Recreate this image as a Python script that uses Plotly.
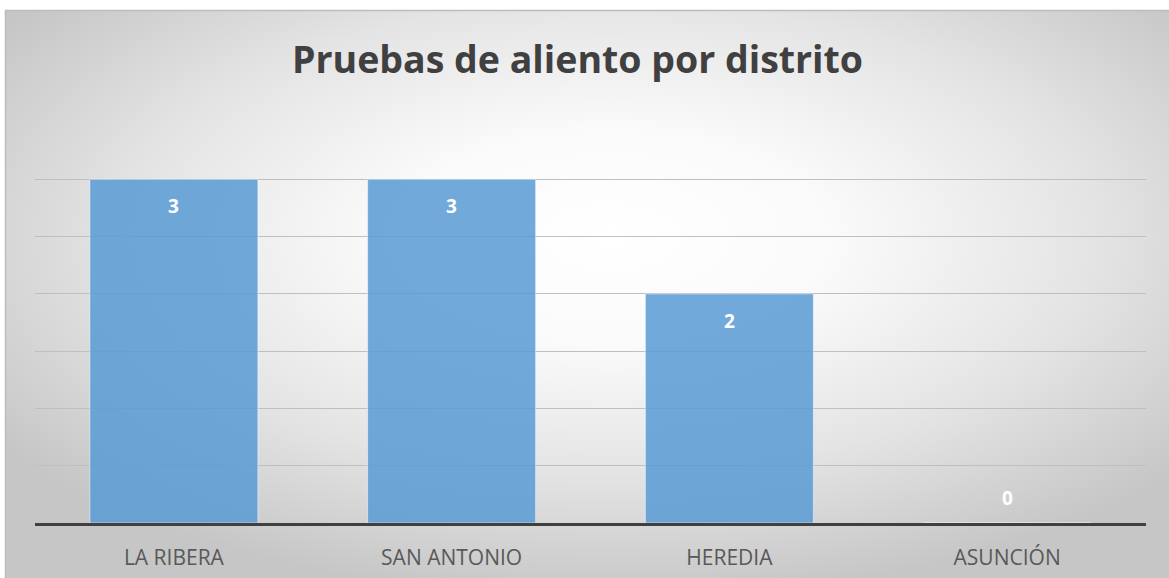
import plotly.graph_objects as go
import base64

categories = ["LA RIBERA", "SAN ANTONIO", "HEREDIA", "ASUNCIÓN"]
values = [3, 3, 2, 0]
title_text = "Pruebas de aliento por distrito"

W, H = 1169, 578
ML, MR, MT, MB = 35, 23, 122, 55
pw = W - ML - MR
ph = H - MT - MB

def px_to_paper_x(px):
    return (px - ML) / pw

def py_to_paper_y(py):
    return (H - MB - py) / ph

svg = f'''<svg xmlns="http://www.w3.org/2000/svg" width="1164" height="568" viewBox="0 0 1164 568" preserveAspectRatio="none">
<defs><radialGradient id="g" cx="0.52" cy="0.4" r="0.64" fx="0.52" fy="0.4">
<stop offset="0" stop-color="#ffffff"/>
<stop offset="0.3" stop-color="#fafafa"/>
<stop offset="0.65" stop-color="#e4e4e4"/>
<stop offset="1" stop-color="#c6c6c6"/>
</radialGradient></defs>
<rect x="0" y="0" width="1164" height="568" fill="url(#g)"/>
</svg>'''
src = "data:image/svg+xml;base64," + base64.b64encode(svg.encode()).decode()

fig = go.Figure()
fig.add_trace(go.Bar(
    x=categories, y=values,
    marker=dict(color="rgba(91,155,213,0.86)", line=dict(color="rgba(255,255,255,0.5)", width=1)),
    hoverinfo="skip",
))

annotations = []
for c, v in zip(categories, values):
    annotations.append(dict(
        x=c, y=v, xref="x", yref="y", text=f"<b>{v}</b>", showarrow=False,
        yshift=-27 if v > 0 else 25,
        font=dict(family="Open Sans", size=19, color="white"),
    ))

x_left = px_to_paper_x(5.5)
x_right = px_to_paper_x(W + 5)
y_top = py_to_paper_y(10.5)
y_bot = py_to_paper_y(H + 5)

fig.update_layout(
    width=W, height=H,
    margin=dict(l=ML, r=MR, t=MT, b=MB, autoexpand=False),
    paper_bgcolor="white",
    plot_bgcolor="rgba(0,0,0,0)",
    showlegend=False,
    bargap=0.395,
    title=dict(text=f"<b>{title_text}</b>", x=0.494, xanchor="center", y=1 - 60 / H, yanchor="middle",
               yref="container", font=dict(family="Open Sans", size=37.5, color="#404040")),
    xaxis=dict(showgrid=False, ticks="outside", ticklen=14, tickcolor="rgba(0,0,0,0)",
               tickfont=dict(family="Open Sans", size=21, color="#595959"), automargin=False,
               showline=True, linecolor="#404040", linewidth=3, fixedrange=True),
    yaxis=dict(range=[0, 3.5], dtick=0.5, showgrid=True, gridcolor="#bfbfbf", gridwidth=1,
               showticklabels=False, zeroline=False, fixedrange=True, automargin=False),
    annotations=annotations,
    images=[dict(source=src, xref="paper", yref="paper",
                 x=px_to_paper_x(5), y=py_to_paper_y(10),
                 sizex=px_to_paper_x(W) - px_to_paper_x(5),
                 sizey=py_to_paper_y(10) - py_to_paper_y(H),
                 xanchor="left", yanchor="top", sizing="stretch", layer="below")],
    shapes=[dict(type="path", xref="paper", yref="paper",
                 path=f"M {x_left} {y_bot} L {x_left} {y_top} L {x_right} {y_top}",
                 line=dict(color="#bdbdbd", width=1.5), layer="below")],
)

fig.write_html("out.html", config={"displayModeBar": False},
               post_script="document.body.style.margin='0';document.body.style.overflow='hidden';")
